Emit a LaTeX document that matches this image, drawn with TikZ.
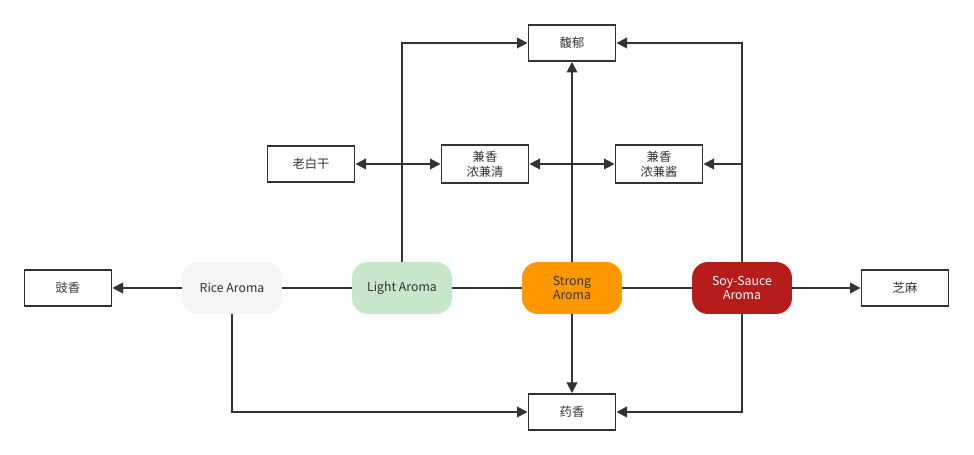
\documentclass[tikz,border=0pt]{standalone}
\usepackage{fontspec}
\setmainfont{Noto Sans CJK SC}
\usetikzlibrary{arrows.meta}
\definecolor{txt}{HTML}{333333}
\definecolor{ricefill}{HTML}{F5F5F5}
\definecolor{lightfill}{HTML}{C8E6C9}
\definecolor{strongfill}{HTML}{FF9800}
\definecolor{soyfill}{HTML}{B71C1C}

\begin{document}
\begin{tikzpicture}[x=0.02cm,y=-0.02cm,
  font=\fontsize{7}{8.4}\selectfont, text=txt,
  box/.style={draw=txt, line width=1.1pt, minimum width=1.74cm, minimum height=0.72cm, align=center, fill=white},
  aroma/.style={rounded corners=0.32cm, minimum width=2cm, minimum height=1.04cm, align=center},
  arr/.style={-{Triangle[length=6pt,width=6pt]}, line width=1.1pt, draw=txt},
  biarr/.style={{Triangle[length=6pt,width=6pt]}-{Triangle[length=6pt,width=6pt]}, line width=1.1pt, draw=txt},
  ln/.style={line width=1.1pt, draw=txt}]
\useasboundingbox (0,0) rectangle (974,455);
% boxes
\node[box] (fuyu) at (572,43) {馥郁};
\node[box] (laobaigan) at (311,164) {老白干};
\node[box] (jianqing) at (485,164) {兼香\\浓兼清};
\node[box] (jianjiang) at (659,164) {兼香\\浓兼酱};
\node[box] (chixiang) at (68,288) {豉香};
\node[box] (zhima) at (905,288) {芝麻};
\node[box] (yaoxiang) at (572,412) {药香};
% aromas
\node[aroma, fill=ricefill] (rice) at (232,288) {Rice Aroma};
\node[aroma, fill=lightfill] (light) at (402,288) {Light Aroma};
\node[aroma, fill=strongfill] (strong) at (572,288) {Strong\\Aroma};
\node[aroma, fill=soyfill, text=white] (soy) at (742,288) {Soy-Sauce\\Aroma};
% links
\draw[arr] (rice.west) -- (chixiang.east);
\draw[ln] (rice.east) -- (light.west);
\draw[ln] (light.east) -- (strong.west);
\draw[ln] (strong.east) -- (soy.west);
\draw[arr] (soy.east) -- (zhima.west);
\draw[arr] (light.north) |- (fuyu.west);
\draw[arr] (strong.north) -- (fuyu.south);
\draw[arr] (soy.north) |- (fuyu.east);
\draw[arr] (soy.north |- jianjiang.east) -- (jianjiang.east);
\draw[biarr] (laobaigan.east) -- (jianqing.west);
\draw[biarr] (jianqing.east) -- (jianjiang.west);
\draw[arr] (strong.south) -- (yaoxiang.north);
\draw[arr] (rice.south) |- (yaoxiang.west);
\draw[arr] (soy.south) |- (yaoxiang.east);
\end{tikzpicture}
\end{document}
